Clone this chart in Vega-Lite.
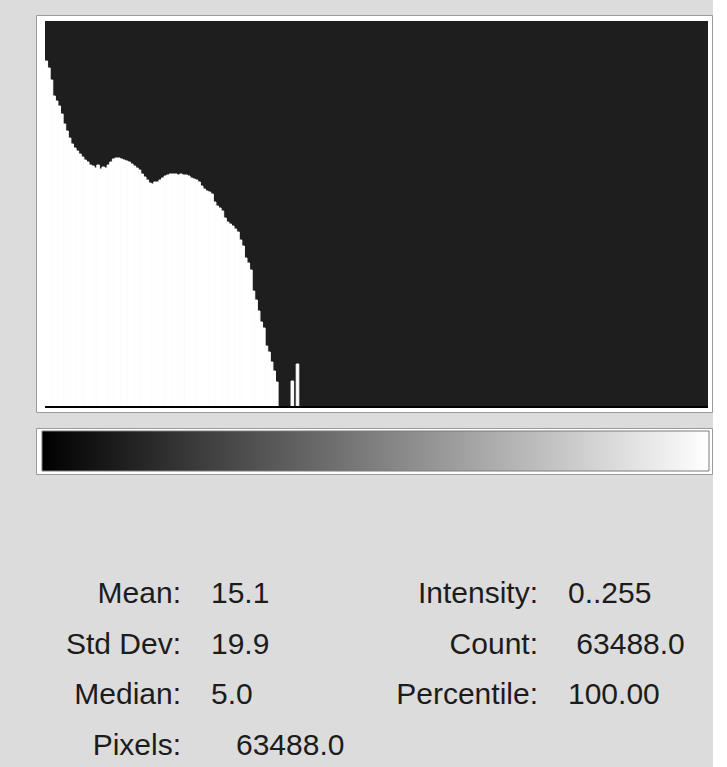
{
  "$schema": "https://vega.github.io/schema/vega-lite/v6.json",
  "background": "#dcdcdc",
  "padding": {"left": 35, "top": 14, "right": 0, "bottom": 0},
  "spacing": 14,
  "config": {"view": {"stroke": null}},
  "datasets": {
    "hist": [
      {"b":0,"e":1,"n":345},{"b":1,"e":2,"n":338},{"b":2,"e":3,"n":326},{"b":3,"e":4,"n":310},
      {"b":4,"e":5,"n":305},{"b":5,"e":6,"n":300},{"b":6,"e":7,"n":292},{"b":7,"e":8,"n":282},
      {"b":8,"e":9,"n":275},{"b":9,"e":10,"n":268},{"b":10,"e":11,"n":262},{"b":11,"e":12,"n":258},
      {"b":12,"e":13,"n":255},{"b":13,"e":14,"n":252},{"b":14,"e":15,"n":249},{"b":15,"e":16,"n":246},
      {"b":16,"e":17,"n":244},{"b":17,"e":18,"n":241},{"b":18,"e":19,"n":240},{"b":19,"e":20,"n":238},
      {"b":20,"e":21,"n":241},{"b":21,"e":22,"n":237},{"b":22,"e":23,"n":239},{"b":23,"e":24,"n":238},
      {"b":24,"e":25,"n":241},{"b":25,"e":26,"n":244},{"b":26,"e":27,"n":247},{"b":27,"e":28,"n":248},
      {"b":28,"e":29,"n":248},{"b":29,"e":30,"n":247},{"b":30,"e":31,"n":246},{"b":31,"e":32,"n":245},
      {"b":32,"e":33,"n":244},{"b":33,"e":34,"n":242},{"b":34,"e":35,"n":240},{"b":35,"e":36,"n":238},
      {"b":36,"e":37,"n":236},{"b":37,"e":38,"n":232},{"b":38,"e":39,"n":229},{"b":39,"e":40,"n":226},
      {"b":40,"e":41,"n":223},{"b":41,"e":42,"n":222},{"b":42,"e":43,"n":224},{"b":43,"e":44,"n":224},
      {"b":44,"e":45,"n":226},{"b":45,"e":46,"n":228},{"b":46,"e":47,"n":230},{"b":47,"e":48,"n":231},
      {"b":48,"e":49,"n":232},{"b":49,"e":50,"n":232},{"b":50,"e":51,"n":232},{"b":51,"e":52,"n":231},
      {"b":52,"e":53,"n":232},{"b":53,"e":54,"n":231},{"b":54,"e":55,"n":231},{"b":55,"e":56,"n":230},
      {"b":56,"e":57,"n":228},{"b":57,"e":58,"n":227},{"b":58,"e":59,"n":226},{"b":59,"e":60,"n":224},
      {"b":60,"e":61,"n":220},{"b":61,"e":62,"n":217},{"b":62,"e":63,"n":215},{"b":63,"e":64,"n":214},
      {"b":64,"e":65,"n":212},{"b":65,"e":66,"n":204},{"b":66,"e":67,"n":200},{"b":67,"e":68,"n":198},
      {"b":68,"e":69,"n":195},{"b":69,"e":70,"n":188},{"b":70,"e":71,"n":184},{"b":71,"e":72,"n":182},
      {"b":72,"e":73,"n":180},{"b":73,"e":74,"n":177},{"b":74,"e":75,"n":174},{"b":75,"e":76,"n":166},
      {"b":76,"e":77,"n":160},{"b":77,"e":78,"n":148},{"b":78,"e":79,"n":143},{"b":79,"e":80,"n":136},
      {"b":80,"e":81,"n":115},{"b":81,"e":82,"n":106},{"b":82,"e":83,"n":95},{"b":83,"e":84,"n":84},
      {"b":84,"e":85,"n":78},{"b":85,"e":86,"n":60},{"b":86,"e":87,"n":54},{"b":87,"e":88,"n":44},
      {"b":88,"e":89,"n":35},{"b":89,"e":90,"n":24},
      {"b":95,"e":96,"n":25},{"b":97,"e":98,"n":42}
    ],
    "stats": [
      {"col":0,"row":0,"label":"Mean:","value":"15.1"},
      {"col":0,"row":1,"label":"Std Dev:","value":"19.9"},
      {"col":0,"row":2,"label":"Median:","value":"5.0"},
      {"col":0,"row":3,"label":"Pixels:","value":"\u200b\u00a0\u00a0\u00a063488.0"},
      {"col":1,"row":0,"label":"Intensity:","value":"0..255"},
      {"col":1,"row":1,"label":"Count:","value":"\u200b\u00a063488.0"},
      {"col":1,"row":2,"label":"Percentile:","value":"100.00"}
    ]
  },
  "vconcat": [
    {
      "width": 676,
      "height": 397,
      "view": {"fill": "#ffffff", "stroke": "#9a9a9a", "strokeWidth": 1},
      "layer": [
        {
          "data": {"values": [{"k": 1}]},
          "mark": {"type": "rect", "color": "#1e1e1e"},
          "encoding": {
            "x": {"datum": 0, "type": "quantitative", "scale": {"domain": [0, 256], "range": [9, 672], "nice": false, "zero": false}, "axis": null},
            "x2": {"datum": 256},
            "y": {"datum": 0, "type": "quantitative", "scale": {"domain": [0, 385], "range": [391, 6], "nice": false}, "axis": null},
            "y2": {"datum": 385}
          }
        },
        {
          "data": {"name": "hist"},
          "mark": {"type": "rect", "fill": "#ffffff", "stroke": "#ffffff", "strokeWidth": 1},
          "encoding": {
            "x": {"field": "b", "type": "quantitative", "scale": {"domain": [0, 256], "range": [9, 672], "nice": false, "zero": false}, "axis": null},
            "x2": {"field": "e"},
            "y": {"field": "n", "type": "quantitative", "scale": {"domain": [0, 385], "range": [391, 6], "nice": false}, "axis": null},
            "y2": {"datum": 0}
          }
        },
        {
          "data": {"values": [{"k": 1}]},
          "mark": {"type": "rule", "color": "#000000", "strokeWidth": 2, "yOffset": 1},
          "encoding": {
            "x": {"datum": 0, "type": "quantitative"},
            "x2": {"datum": 256},
            "y": {"datum": 0, "type": "quantitative"}
          }
        }
      ]
    },
    {
      "width": 676,
      "height": 46,
      "view": {"fill": "#ffffff", "stroke": "#9a9a9a", "strokeWidth": 1},
      "data": {"values": [{"k": 1}]},
      "mark": {
        "type": "rect",
        "stroke": "#7a7a7a",
        "strokeWidth": 1,
        "fill": {"gradient": "linear", "x1": 0, "y1": 0, "x2": 1, "y2": 0,
          "stops": [{"offset": 0, "color": "#000000"}, {"offset": 0.5, "color": "#7f7f7f"}, {"offset": 1, "color": "#ffffff"}]}
      },
      "encoding": {
        "x": {"datum": 0, "type": "quantitative", "scale": {"domain": [0, 1], "range": [6, 673], "nice": false, "zero": false}, "axis": null},
        "x2": {"datum": 1},
        "y": {"datum": 0, "type": "quantitative", "scale": {"domain": [0, 1], "range": [43, 3], "nice": false}, "axis": null},
        "y2": {"datum": 1}
      }
    },
    {
      "width": 676,
      "height": 282,
      "data": {"name": "stats"},
      "layer": [
        {
          "mark": {"type": "text", "align": "right", "baseline": "middle", "font": "Liberation Sans", "fontSize": 30, "fill": "#1c1c1c"},
          "encoding": {
            "x": {"field": "col", "type": "quantitative", "scale": {"domain": [0, 1], "range": [145, 502], "nice": false, "zero": false}, "axis": null},
            "y": {"field": "row", "type": "quantitative", "scale": {"domain": [0, 3], "range": [105, 257], "nice": false, "zero": false}, "axis": null},
            "text": {"field": "label"}
          }
        },
        {
          "mark": {"type": "text", "align": "left", "baseline": "middle", "font": "Liberation Sans", "fontSize": 30, "fill": "#1c1c1c", "dx": 30},
          "encoding": {
            "x": {"field": "col", "type": "quantitative", "scale": {"domain": [0, 1], "range": [145, 502], "nice": false, "zero": false}, "axis": null},
            "y": {"field": "row", "type": "quantitative", "scale": {"domain": [0, 3], "range": [105, 257], "nice": false, "zero": false}, "axis": null},
            "text": {"field": "value"}
          }
        }
      ]
    }
  ]
}
